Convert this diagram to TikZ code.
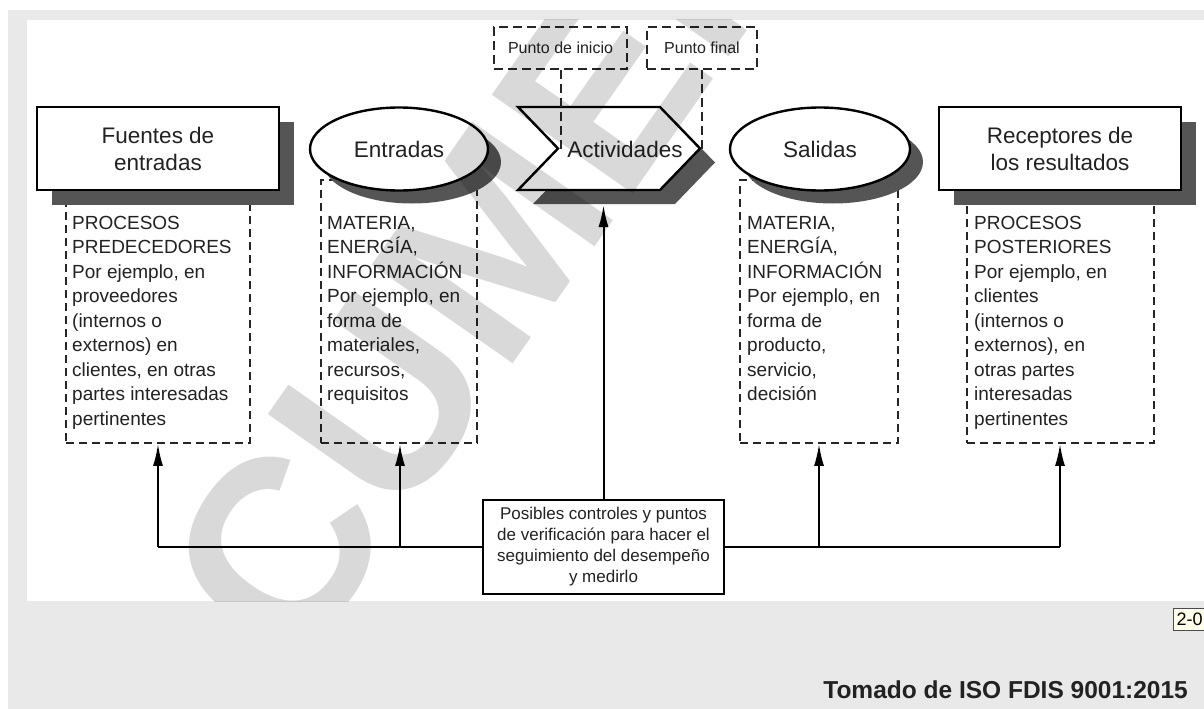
\documentclass[tikz,border=0pt]{standalone}
\usepackage{fontspec}
\setmainfont{Liberation Sans}
\usetikzlibrary{shapes.geometric,arrows.meta}
\definecolor{bggray}{HTML}{E9E9E9}
\definecolor{shad}{HTML}{555555}
\definecolor{txt}{HTML}{222222}
\begin{document}
\begin{tikzpicture}[x=1pt,y=-1pt,
  mainbox/.style={draw=black, line width=2.4pt, fill=white, inner sep=0pt, align=center, text=txt, font=\fontsize{22.5}{27}\selectfont},
  shadowbox/.style={fill=shad, draw=none, inner sep=0pt},
  dbox/.style={draw=black!85, line width=1.8pt, dash pattern=on 8pt off 5pt, inner sep=0pt},
  pbox/.style={draw=black!85, line width=2.2pt, dash pattern=on 9pt off 5pt, inner sep=0pt, text=txt, font=\fontsize{16}{19}\selectfont},
  dline/.style={draw=black!85, line width=2pt, dash pattern=on 9pt off 5pt},
  dtext/.style={anchor=north west, inner sep=0pt, align=left, text=txt, font=\fontsize{19}{24.5}\selectfont},
  arr/.style={line width=2pt, -{Latex[length=22pt,width=10pt]}},
  conn/.style={line width=2pt}
]
\useasboundingbox (0,0) rectangle (1204,709);
\fill[white] (0,0) rectangle (1204,709);
\fill[bggray] (8,10) rectangle (1204,709);
\fill[white] (27,20) rectangle (1204,601);

% dashed text boxes
\node[dbox, minimum width=184pt, minimum height=263pt] (d1) at (158,311.5) {};
\node[dbox, minimum width=156pt, minimum height=263pt] (d2) at (399,311.5) {};
\node[dbox, minimum width=158pt, minimum height=263pt] (d3) at (819,311.5) {};
\node[dbox, minimum width=187pt, minimum height=263pt] (d4) at (1060.5,311.5) {};

\node[dtext] (t1) at (72,216) {PROCESOS\\PREDECEDORES\\Por ejemplo, en\\proveedores\\(internos o\\externos) en\\clientes, en otras\\partes interesadas\\pertinentes};
\node[dtext] (t2) at (327,216) {MATERIA,\\ENERGÍA,\\INFORMACIÓN\\Por ejemplo, en\\forma de\\materiales,\\recursos,\\requisitos};
\node[dtext] (t3) at (747,216) {MATERIA,\\ENERGÍA,\\INFORMACIÓN\\Por ejemplo, en\\forma de\\producto,\\servicio,\\decisión};
\node[dtext] (t4) at (974,216) {PROCESOS\\POSTERIORES\\Por ejemplo, en\\clientes\\(internos o\\externos), en\\otras partes\\interesadas\\pertinentes};

% shadows
\node[shadowbox, minimum width=242pt, minimum height=83pt] (fuS) at (173,163.5) {};
\node[shadowbox, minimum width=242pt, minimum height=83pt] (reS) at (1075,163.5) {};
\node[shadowbox, ellipse, minimum width=178pt, minimum height=83pt] (enS) at (412,162) {};
\node[shadowbox, ellipse, minimum width=180pt, minimum height=83pt] (saS) at (833,162) {};
\fill[shad] (533,121) -- (675,121) -- (715,162.5) -- (675,204) -- (533,204) -- (573,162.5) -- cycle;

% main shapes
\node[mainbox, minimum width=242pt, minimum height=83pt] (fu) at (158,148.5) {Fuentes de\\entradas};
\node[mainbox, minimum width=242pt, minimum height=83pt] (re) at (1060,148.5) {Receptores de\\los resultados};
\node[mainbox, ellipse, minimum width=178pt, minimum height=83pt] (en) at (399,149) {Entradas};
\node[mainbox, ellipse, minimum width=180pt, minimum height=83pt] (sa) at (820,149) {Salidas};
\draw[line width=2.4pt, fill=white] (518,107) -- (660,107) -- (700,148.5) -- (660,190) -- (518,190) -- (558,148.5) -- cycle;
\node[inner sep=0pt, text=txt, font=\fontsize{22.5}{27}\selectfont] (act) at (625,149) {Actividades};

% start / end points
\node[pbox, minimum width=133pt, minimum height=42pt] (pi) at (560.5,48) {Punto de inicio};
\node[pbox, minimum width=110pt, minimum height=42pt] (pf) at (702,48) {Punto final};
\draw[dline] (pi.south) -- (pi.south |- act);
\draw[dline] (pf.south) -- (pf.south |- act);

% controls
\node[draw=black, line width=2pt, fill=white, minimum width=241pt, minimum height=94pt, inner sep=0pt, align=center, text=txt, font=\fontsize{17}{21}\selectfont] (ctrl) at (603.5,547) {Posibles controles y puntos\\de verificación para hacer el\\seguimiento del desempeño\\y medirlo};
\coordinate (j1) at (158,547);
\coordinate (j2) at (400,547);
\coordinate (j3) at (819,547);
\coordinate (j4) at (1060,547);
\coordinate (actb) at (603.5,205);
\draw[conn] (j1) -- (ctrl.west);
\draw[conn] (ctrl.east) -- (j4);
\draw[arr] (j1) -- (j1 |- d1.south);
\draw[arr] (j2) -- (j2 |- d2.south);
\draw[arr] (j3) -- (j3 |- d3.south);
\draw[arr] (j4) -- (j4 |- d4.south);
\draw[arr] (ctrl.north) -- (actb);

% watermark (translucent overlay)
\begin{scope}
\clip (27,20) rectangle (1204,601);
\node[rotate=55, text=black, text opacity=0.15, font=\fontsize{250}{250}\selectfont\bfseries] (wmark) at (480,262) {DOCUMENTO};
\end{scope}

% tooltip fragment and source
\node[draw=black!70, line width=1pt, fill=yellow!8, anchor=north west, inner sep=3pt, minimum height=22pt, font=\fontsize{18}{20}\selectfont] (tip) at (1173,608) {2-0};
\node[anchor=east, inner sep=0pt, text=txt, font=\fontsize{24.5}{28}\selectfont\bfseries] (src) at (1188,690) {Tomado de ISO FDIS 9001:2015};
\end{tikzpicture}
\end{document}
